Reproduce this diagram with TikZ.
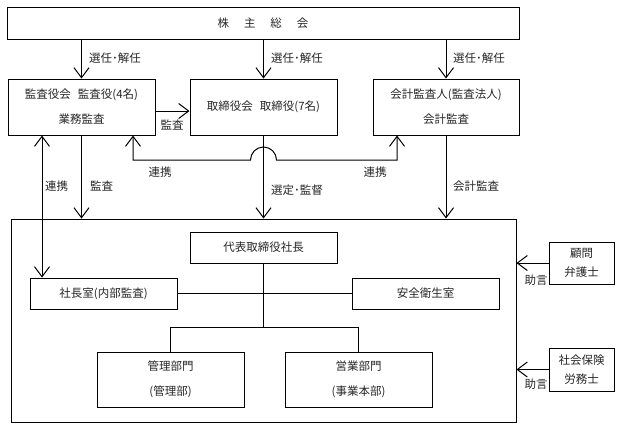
\documentclass[tikz,border=0pt]{standalone}
\usepackage{fontspec}
\setmainfont{Noto Sans CJK JP}
\usetikzlibrary{arrows.meta}
\begin{document}
\begin{tikzpicture}[x=1pt,y=-1pt,
  box/.style={draw, line width=1pt, inner sep=0pt, align=center, text=black!85,
    font=\fontsize{11.5}{25}\selectfont},
  boxsm/.style={box, font=\fontsize{11.5}{19}\selectfont},
  conn/.style={line width=1pt},
  arr/.style={conn, -{Straight Barb[length=10pt,width=15pt,line width=1pt]}},
  darr/.style={conn, {Straight Barb[length=10pt,width=15pt,line width=1pt]}-{Straight Barb[length=10pt,width=15pt,line width=1pt]}},
  lbl/.style={font=\fontsize{11.5}{13}\selectfont, inner sep=0pt, text=black!85}]
\useasboundingbox (0,0) rectangle (624,429);
% boxes
\node[box, minimum width=512pt, minimum height=32pt] (top) at (263,23) {株\hspace{1.3em}主\hspace{1.3em}総\hspace{1.3em}会};
\node[box, minimum width=147pt, minimum height=56pt] (kansa) at (81.5,107) {監査役会\hspace{0.6em}監査役(4名)\\業務監査};
\node[box, minimum width=147pt, minimum height=56pt] (tori) at (263.5,107) {取締役会\hspace{0.6em}取締役(7名)};
\node[box, minimum width=146pt, minimum height=56pt] (kaikei) at (446,107) {会計監査人(監査法人)\\会計監査};
\node[draw, line width=1pt, minimum width=505pt, minimum height=203pt] (big) at (263.5,320.5) {};
\node[box, minimum width=147pt, minimum height=31pt] (daihyo) at (263.5,247.5) {代表取締役社長};
\node[box, minimum width=147pt, minimum height=31pt] (shacho) at (103.5,293.5) {社長室(内部監査)};
\node[box, minimum width=147pt, minimum height=31pt] (anzen) at (425.5,293.5) {安全衛生室};
\node[box, minimum width=147pt, minimum height=55pt] (kanri) at (170.5,379.5) {管理部門\\(管理部)};
\node[box, minimum width=147pt, minimum height=55pt] (eigyo) at (358.5,379.5) {営業部門\\(事業本部)};
\node[boxsm, minimum width=65pt, minimum height=42pt] (komon) at (581.5,263) {顧問\\弁護士};
\node[boxsm, minimum width=65pt, minimum height=43pt] (shakai) at (581.5,369.5) {社会保険\\労務士};
% election arrows
\draw[arr] (top.south -| kansa) -- (kansa.north);
\draw[arr] (top.south -| tori) -- (tori.north);
\draw[arr] (top.south -| kaikei) -- (kaikei.north);
\node[lbl, anchor=west] (e1) at (89,58) {選任･解任};
\node[lbl, anchor=west] (e2) at (271,58) {選任･解任};
\node[lbl, anchor=west] (e3) at (453,58) {選任･解任};
% audit to board
\draw[arr] ([yshift=-4pt]kansa.east) -- ([yshift=-4pt]tori.west);
\node[lbl] (a1) at (172,125) {監査};
% down arrows into company
\draw[arr] (kansa.south) -- (big.north -| kansa);
\node[lbl, anchor=west] (a2) at (90,186) {監査};
\draw[arr] (tori.south) -- (big.north -| tori);
\node[lbl, anchor=west] (s1) at (271,190) {選定･監督};
\draw[arr] (kaikei.south) -- (big.north -| kaikei);
\node[lbl, anchor=west] (k1) at (453,186) {会計監査};
% cooperation with internal audit
\coordinate (c1) at (42,0);
\draw[darr] (kansa.south -| c1) -- (shacho.north -| c1);
\node[lbl, anchor=west] (r1) at (45,186) {連携};
% cooperation with accounting auditor (crossing arc)
\coordinate (c2) at (133,160);
\coordinate (c3) at (397,160);
\coordinate (h1) at (250.5,160);
\draw[darr] (kansa.south -| c2) -- (c2) -- (h1) arc[start angle=180, end angle=0, radius=13pt] -- (c3) -- (kaikei.south -| c3);
\node[lbl] (r2) at (160,172) {連携};
\node[lbl] (r3) at (375,172) {連携};
% organisation lines
\coordinate (j1) at (263.5,327);
\draw[conn] (shacho.east) -- (anzen.west);
\draw[conn] (daihyo.south) -- (j1);
\draw[conn] (kanri.north) -- (kanri.north |- j1) -- (eigyo.north |- j1) -- (eigyo.north);
% advice
\draw[arr] (komon.west) -- (komon.west -| big.east);
\node[lbl] (ad1) at (536,280) {助言};
\draw[arr] (shakai.west) -- (shakai.west -| big.east);
\node[lbl] (ad2) at (536,384) {助言};
\end{tikzpicture}
\end{document}
